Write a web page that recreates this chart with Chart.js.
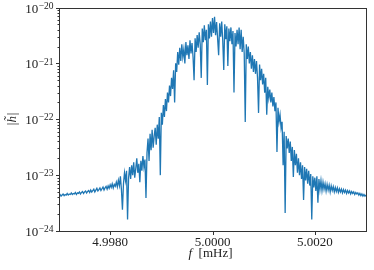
<!DOCTYPE html>
<html>
<head>
<meta charset="utf-8">
<script src="https://cdn.jsdelivr.net/npm/chart.js@4/dist/chart.umd.min.js"></script>
<style>
html,body{margin:0;padding:0;background:#fff;}
canvas{display:block;}
</style>
</head>
<body>
<canvas id="c" width="374" height="270"></canvas>
<script>
// Frequency bins (mHz): evenly spaced FFT grid
const freqStart = 4.9970;
const freqStep = 0.00002;

// |h~| amplitude per bin
const amplitude = [
  4.3e-24, 4.5e-24, 4.2e-24, 4.4e-24, 4.6e-24, 4.3e-24, 4.5e-24, 4.4e-24, 4.7e-24, 4.4e-24,
  4.6e-24, 4.5e-24, 4.8e-24, 4.5e-24, 4.7e-24, 4.6e-24, 4.9e-24, 4.5e-24, 4.8e-24, 4.7e-24,
  5.0e-24, 4.6e-24, 4.9e-24, 5.1e-24, 4.7e-24, 5.0e-24, 5.2e-24, 4.8e-24, 5.1e-24, 5.3e-24,
  4.9e-24, 5.4e-24, 5.0e-24, 5.3e-24, 5.6e-24, 5.0e-24, 5.4e-24, 5.8e-24, 5.2e-24, 5.5e-24,
  5.9e-24, 5.3e-24, 5.7e-24, 6.1e-24, 5.4e-24, 5.9e-24, 6.3e-24, 5.6e-24, 6.4e-24, 5.8e-24,
  6.7e-24, 6.0e-24, 7.0e-24, 5.9e-24, 6.8e-24, 6.3e-24, 7.5e-24, 6.2e-24, 8.1e-24, 6.5e-24,
  9.5e-24, 5.5e-24, 2.4e-24, 7.0e-24, 1.1e-23, 8.0e-24, 1.2e-23, 1.6e-24, 9.0e-24, 1.4e-23,
  8.5e-24, 1.5e-23, 1.0e-23, 1.7e-23, 9.0e-24, 1.3e-23, 2.0e-23, 1.1e-23, 1.6e-23, 7.5e-24,
  1.8e-23, 1.2e-23, 2.2e-23, 1.4e-23, 1.9e-23, 3.9e-24, 2.5e-23, 4.5e-23, 1.8e-23, 5.5e-23,
  2.8e-23, 6.5e-23, 3.1e-23, 5.0e-23, 7.0e-23, 3.5e-23, 8.0e-23, 4.5e-23, 1.1e-22, 1.0e-23,
  1.3e-22, 8.0e-23, 1.8e-22, 1.1e-22, 2.3e-22, 1.4e-22, 3.0e-22, 2.0e-22, 4.0e-22, 2.6e-22,
  5.5e-22, 3.5e-22, 7.5e-22, 2.0e-22, 1.0e-21, 7.0e-22, 1.6e-21, 9.5e-22, 1.9e-21, 1.1e-21,
  2.2e-21, 1.3e-21, 1.8e-21, 1.0e-21, 2.4e-21, 1.4e-21, 2.1e-21, 1.2e-21, 2.6e-21, 1.5e-21,
  2.3e-21, 1.3e-21, 5.0e-22, 2.8e-21, 1.6e-21, 3.2e-21, 1.9e-21, 3.6e-21, 2.2e-21, 5.5e-22,
  4.2e-21, 2.4e-21, 4.8e-21, 2.6e-21, 4.0e-21, 4.1e-22, 5.0e-21, 2.8e-21, 5.6e-21, 3.0e-21,
  6.5e-21, 3.5e-21, 6.8e-21, 3.2e-21, 5.5e-21, 2.8e-21, 1.4e-21, 5.2e-21, 3.0e-21, 5.6e-21,
  2.6e-21, 7.6e-22, 5.0e-21, 2.7e-21, 4.6e-21, 9.0e-22, 4.2e-21, 2.5e-21, 4.4e-21, 2.2e-21,
  3.8e-21, 3.0e-22, 3.5e-21, 2.0e-21, 4.0e-21, 2.2e-21, 4.4e-21, 1.8e-21, 4.0e-21, 1.6e-21,
  3.0e-21, 1.5e-21, 8.9e-23, 2.2e-21, 1.2e-21, 2.0e-21, 1.0e-21, 1.6e-21, 8.0e-22, 1.4e-21,
  7.0e-22, 1.2e-21, 6.5e-22, 1.1e-21, 5.5e-22, 1.3e-22, 9.5e-22, 5.0e-22, 8.0e-22, 4.2e-22,
  6.5e-22, 3.0e-22, 5.5e-22, 1.2e-22, 3.8e-22, 2.4e-22, 3.4e-22, 2.0e-22, 3.0e-22, 1.7e-22,
  2.5e-22, 1.4e-22, 2.0e-22, 2.6e-23, 1.6e-22, 9.0e-23, 1.2e-22, 7.0e-23, 9.0e-23, 1.5e-23,
  6.0e-23, 2.1e-24, 5.0e-23, 3.0e-23, 4.5e-23, 2.5e-23, 4.0e-23, 1.8e-23, 3.2e-23, 9.3e-24,
  2.8e-23, 1.5e-23, 2.4e-23, 1.1e-23, 2.0e-23, 1.0e-23, 1.7e-23, 8.5e-24, 1.5e-23, 3.6e-24,
  1.4e-23, 8.0e-24, 1.3e-23, 7.0e-24, 1.2e-23, 6.5e-24, 1.05e-23, 1.6e-24, 9.5e-24, 6.0e-24,
  9.0e-24, 5.2e-24, 9.5e-24, 3.2e-24, 8.5e-24, 5.5e-24, 8.0e-24, 5.3e-24, 7.5e-24, 5.6e-24,
  7.0e-24, 5.2e-24, 6.8e-24, 5.4e-24, 6.6e-24, 5.0e-24, 6.4e-24, 5.3e-24, 6.2e-24, 5.0e-24,
  6.0e-24, 5.1e-24, 5.9e-24, 4.9e-24, 5.7e-24, 5.0e-24, 5.6e-24, 4.8e-24, 5.5e-24, 4.9e-24,
  5.4e-24, 4.7e-24, 5.3e-24, 4.8e-24, 5.2e-24, 4.6e-24, 5.1e-24, 4.7e-24, 5.0e-24, 4.5e-24,
  4.9e-24, 4.6e-24, 4.8e-24, 4.4e-24, 4.7e-24, 4.3e-24, 4.6e-24, 4.2e-24, 4.5e-24, 4.2e-24,
  4.4e-24
];

// Axis ticks and titles
const xRange = [4.9970, 5.0030];
const xTickValues = [4.9980, 5.0000, 5.0020];
const yTickExponents = [-24, -23, -22, -21, -20];
const yMinorMultipliers = [2, 3, 4, 5, 6, 7, 8, 9];
const xTitleVar = 'f';
const xTitleUnit = '[mHz]';
const yTitle = '|h\u0303|';

function isPow10(v) {
  const l = Math.log10(v);
  return Math.abs(l - Math.round(l)) < 1e-6;
}

const points = amplitude.map((a, i) => ({x: freqStart + i * freqStep, y: a}));

const FONT = '"Liberation Serif", "DejaVu Serif", serif';
const AXIS_COLOR = '#333333';
const TEXT_COLOR = '#222222';

const frameAndTicks = {
  id: 'frameAndTicks',
  afterDraw(chart) {
    const {ctx, chartArea: a, scales} = chart;
    const L = Math.round(a.left) + 0.5, B = Math.round(a.bottom) + 0.5;
    ctx.save();
    ctx.strokeStyle = AXIS_COLOR;
    ctx.lineWidth = 1;
    ctx.strokeRect(L, Math.round(a.top) + 0.5,
                   Math.round(a.right) - Math.round(a.left), Math.round(a.bottom) - Math.round(a.top));
    // y ticks (major + minor) and mathtext-like labels
    const ys = scales.y;
    ys.ticks.forEach(t => {
      const py = Math.round(ys.getPixelForValue(t.value)) + 0.5;
      const len = isPow10(t.value) ? 3.5 : 2;
      ctx.beginPath();
      ctx.moveTo(L - len, py);
      ctx.lineTo(L, py);
      ctx.stroke();
    });
    ctx.fillStyle = TEXT_COLOR;
    ctx.textBaseline = 'alphabetic';
    ctx.textAlign = 'left';
    yTickExponents.forEach(e => {
      const py = ys.getPixelForValue(Math.pow(10, e));
      const expText = '\u2212' + String(Math.abs(e));
      ctx.font = '9.5px ' + FONT;
      const we = ctx.measureText(expText).width;
      ctx.font = '13px ' + FONT;
      const wb = ctx.measureText('10').width;
      const right = L - 6;
      ctx.fillText('10', right - we - wb - 0.3, py + 5);
      ctx.font = '9.5px ' + FONT;
      ctx.fillText(expText, right - we, py + 1.2);
    });
    // x ticks
    const xs = scales.x;
    xs.ticks.forEach(t => {
      const px = Math.round(xs.getPixelForValue(t.value)) + 0.5;
      ctx.beginPath();
      ctx.moveTo(px, B);
      ctx.lineTo(px, B + 3.5);
      ctx.stroke();
    });
    // x title with italic variable
    ctx.font = 'italic 13px ' + FONT;
    const wv = ctx.measureText(xTitleVar + ' ').width;
    ctx.font = '13px ' + FONT;
    const wu = ctx.measureText(' ' + xTitleUnit).width;
    const cx = (a.left + a.right) / 2 - 2;
    const x0 = cx - (wv + wu) / 2;
    ctx.font = 'italic 13px ' + FONT;
    ctx.fillText(xTitleVar, x0, 256.5);
    ctx.font = '13px ' + FONT;
    ctx.fillText(' ' + xTitleUnit, x0 + wv, 256.5);
    ctx.restore();
  }
};

new Chart(document.getElementById('c'), {
  type: 'line',
  data: {
    datasets: [{
      data: points,
      borderColor: '#1f77b4',
      borderWidth: 1.3,
      pointRadius: 0,
      tension: 0,
      fill: false
    }]
  },
  options: {
    responsive: false,
    animation: false,
    events: [],
    layout: {padding: {top: 7.5, right: 8, left: 0, bottom: 0}},
    plugins: {legend: {display: false}, tooltip: {enabled: false}},
    scales: {
      x: {
        type: 'linear',
        min: xRange[0],
        max: xRange[1],
        afterBuildTicks: s => { s.ticks = xTickValues.map(v => ({value: v})); },
        afterFit: s => { s.height = 39; },
        border: {display: false},
        grid: {display: true, drawOnChartArea: false, drawTicks: true, tickLength: 3, tickColor: 'rgba(0,0,0,0)'},
        ticks: {
          autoSkip: false,
          maxRotation: 0,
          padding: 1,
          color: TEXT_COLOR,
          font: {family: FONT, size: 13},
          callback: v => Number(v).toFixed(4)
        },
        title: {display: false}
      },
      y: {
        type: 'logarithmic',
        min: Math.pow(10, yTickExponents[0]),
        max: Math.pow(10, yTickExponents[yTickExponents.length - 1]),
        afterBuildTicks: s => {
          const t = [];
          yTickExponents.forEach((e, k) => {
            t.push({value: Math.pow(10, e)});
            if (k < yTickExponents.length - 1) {
              yMinorMultipliers.forEach(m => t.push({value: m * Math.pow(10, e)}));
            }
          });
          s.ticks = t;
        },
        afterFit: s => { s.width = 59; },
        border: {display: false},
        grid: {display: false},
        ticks: {display: false, autoSkip: false},
        title: {
          display: true,
          text: yTitle,
          color: TEXT_COLOR,
          font: {family: FONT, size: 13, style: 'italic'},
          padding: {top: 4.5, bottom: 0}
        }
      }
    }
  },
  plugins: [frameAndTicks]
});
</script>
</body>
</html>
